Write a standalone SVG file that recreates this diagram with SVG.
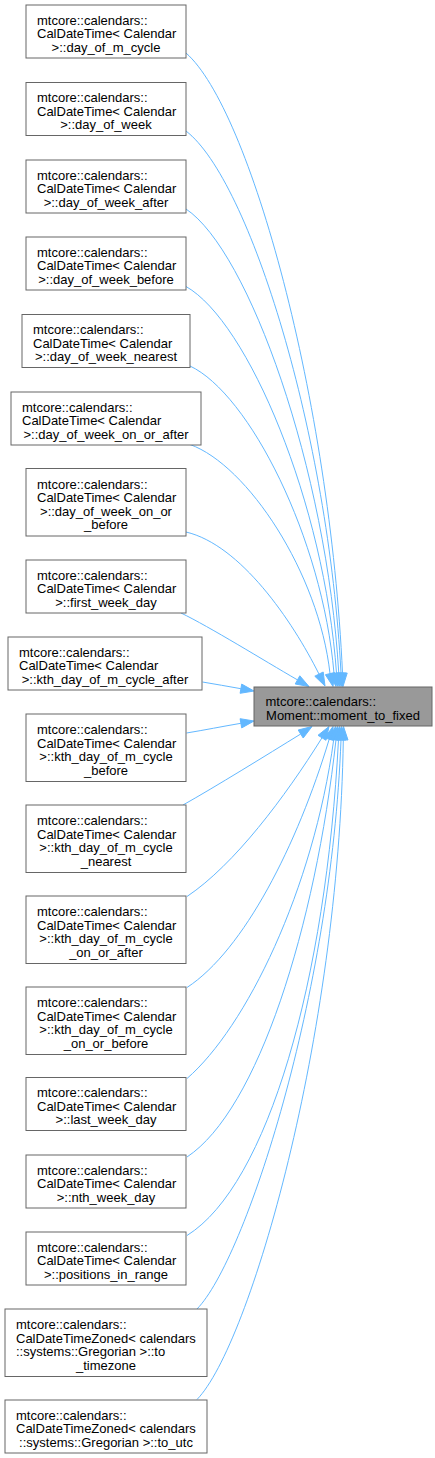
<svg xmlns="http://www.w3.org/2000/svg" width="435" height="1458" viewBox="0 0 435 1458">
<style>
.n rect{fill:#ffffff;stroke:#666666;stroke-width:1}
.c rect{fill:#999999;stroke:#666666;stroke-width:1}
text{font-family:"Liberation Sans",Arial,Helvetica,sans-serif;font-size:13px;fill:#000000}
.m{text-anchor:middle}
#edges path{fill:none;stroke:#63b8ff;stroke-width:1}
#edges polygon{fill:#63b8ff;stroke:#63b8ff;stroke-width:1}
</style>
<rect width="435" height="1458" fill="#ffffff"/>
<g id="edges">
<path d="M186,53 C250,109 330,400 342.5,673.2"/><polygon points="343,686.5 347.2,673 337.8,673.4"/>
<path d="M186,131 C249.6,179.8 328.6,434.6 341,673.2"/><polygon points="342,686.5 345.7,672.9 336.3,673.5"/>
<path d="M186,209 C248.6,250.8 326.6,469 338.8,673.3"/><polygon points="340,686.5 343.5,672.9 334.1,673.7"/>
<path d="M186,286.5 C247.7,321.3 324.5,503.1 336.5,673.3"/><polygon points="338,686.5 341.2,672.8 331.8,673.8"/>
<path d="M190,366 C249,393.7 322.5,538.1 334,673.4"/><polygon points="336,686.5 338.65,672.7 329.35,674.1"/>
<path d="M190,444.5 C247.4,465.1 318.8,572.8 330,673.6"/><polygon points="333,686.5 334.6,672.5 325.4,674.7"/>
<path d="M186,532 C240.5,544.8 292.2,620.5 319,674.1"/><polygon points="325,686 323.2,672 314.8,676.2"/>
<path d="M181,613 C210,627 262.9,659.9 297.5,679.9"/><polygon points="309,686.5 299.8,675.8 295.2,684"/>
<path d="M202.5,682 C215,684 228,686.5 240.9,688.7"/><polygon points="254,691 241.7,684.1 240.1,693.3"/>
<path d="M186.5,733 C205,730 222,726.5 240.9,723.3"/><polygon points="254,721 241.7,727.9 240.1,718.7"/>
<path d="M183,805 C215,787 266.7,755 300.7,734"/><polygon points="312,726.5 303.2,738 298.2,730"/>
<path d="M187,896.5 C234.3,864.8 284.9,797.2 322,737.8"/><polygon points="329,726.5 326,740.3 318,735.3"/>
<path d="M187,987.5 C243.9,950.3 297.5,844.6 329.2,739.2"/><polygon points="333,726.5 333.7,740.55 324.7,737.85"/>
<path d="M187,1078.5 C245.7,1027.7 313.2,890.2 333.7,739.7"/><polygon points="335.5,726.5 338.35,740.3 329.05,739.1"/>
<path d="M187,1157 C258,1110 315.3,926.6 336,739.7"/><polygon points="337.5,726.5 340.7,740.2 331.3,739.2"/>
<path d="M187,1235.5 C268,1185 326,980 338.5,739.7"/><polygon points="339.5,726.5 343.2,740.1 333.8,739.3"/>
<path d="M197,1309 C245,1260 331.3,995.6 341,739.8"/><polygon points="341.5,726.5 345.7,740.2 336.3,739.4"/>
<path d="M197,1399.5 C250,1345 338.8,1036.8 343.3,739.8"/><polygon points="343.5,726.5 348,740 338.6,739.6"/>
</g>
<g id="node_center" class="c"><rect x="254" y="687" width="178" height="39"/><text x="265.5" y="706.3">mtcore::calendars::</text><text class="m" x="343" y="719.8">Moment::moment_to_fixed</text></g>
<g id="node1" class="n"><rect x="26" y="5" width="160" height="53"/><text x="37" y="24.6">mtcore::calendars::</text><text x="37" y="38.1">CalDateTime&lt; Calendar</text><text class="m" x="106" y="51.6">&gt;::day_of_m_cycle</text></g>
<g id="node2" class="n"><rect x="26" y="82.5" width="160" height="53"/><text x="37" y="102.1">mtcore::calendars::</text><text x="37" y="115.6">CalDateTime&lt; Calendar</text><text class="m" x="106" y="129.1">&gt;::day_of_week</text></g>
<g id="node3" class="n"><rect x="26" y="160" width="160" height="53"/><text x="37" y="179.6">mtcore::calendars::</text><text x="37" y="193.1">CalDateTime&lt; Calendar</text><text class="m" x="106" y="206.6">&gt;::day_of_week_after</text></g>
<g id="node4" class="n"><rect x="26" y="237" width="160" height="53"/><text x="37" y="256.6">mtcore::calendars::</text><text x="37" y="270.1">CalDateTime&lt; Calendar</text><text class="m" x="106" y="283.6">&gt;::day_of_week_before</text></g>
<g id="node5" class="n"><rect x="22" y="314.5" width="168" height="53"/><text x="33" y="334.1">mtcore::calendars::</text><text x="33" y="347.6">CalDateTime&lt; Calendar</text><text class="m" x="106" y="361.1">&gt;::day_of_week_nearest</text></g>
<g id="node6" class="n"><rect x="11" y="392" width="190" height="53"/><text x="22" y="411.6">mtcore::calendars::</text><text x="22" y="425.1">CalDateTime&lt; Calendar</text><text class="m" x="106" y="438.6">&gt;::day_of_week_on_or_after</text></g>
<g id="node7" class="n"><rect x="26" y="468.5" width="160" height="67.5"/><text x="37" y="488.8">mtcore::calendars::</text><text x="37" y="502.3">CalDateTime&lt; Calendar</text><text class="m" x="106" y="515.8">&gt;::day_of_week_on_or</text><text class="m" x="106" y="529.3">_before</text></g>
<g id="node8" class="n"><rect x="26" y="560" width="160" height="53"/><text x="37" y="579.6">mtcore::calendars::</text><text x="37" y="593.1">CalDateTime&lt; Calendar</text><text class="m" x="106" y="606.6">&gt;::first_week_day</text></g>
<g id="node9" class="n"><rect x="8" y="637" width="194" height="53"/><text x="19" y="656.6">mtcore::calendars::</text><text x="19" y="670.1">CalDateTime&lt; Calendar</text><text class="m" x="105" y="683.6">&gt;::kth_day_of_m_cycle_after</text></g>
<g id="node10" class="n"><rect x="26" y="714" width="160" height="67.5"/><text x="37" y="734.3">mtcore::calendars::</text><text x="37" y="747.8">CalDateTime&lt; Calendar</text><text class="m" x="106" y="761.3">&gt;::kth_day_of_m_cycle</text><text class="m" x="106" y="774.8">_before</text></g>
<g id="node11" class="n"><rect x="26" y="805" width="160" height="67.5"/><text x="37" y="825.3">mtcore::calendars::</text><text x="37" y="838.8">CalDateTime&lt; Calendar</text><text class="m" x="106" y="852.3">&gt;::kth_day_of_m_cycle</text><text class="m" x="106" y="865.8">_nearest</text></g>
<g id="node12" class="n"><rect x="26" y="896" width="160" height="67.5"/><text x="37" y="916.3">mtcore::calendars::</text><text x="37" y="929.8">CalDateTime&lt; Calendar</text><text class="m" x="106" y="943.3">&gt;::kth_day_of_m_cycle</text><text class="m" x="106" y="956.8">_on_or_after</text></g>
<g id="node13" class="n"><rect x="26" y="987" width="160" height="67.5"/><text x="37" y="1007.3">mtcore::calendars::</text><text x="37" y="1020.8">CalDateTime&lt; Calendar</text><text class="m" x="106" y="1034.3">&gt;::kth_day_of_m_cycle</text><text class="m" x="106" y="1047.8">_on_or_before</text></g>
<g id="node14" class="n"><rect x="26" y="1077.5" width="160" height="53"/><text x="37" y="1097.1">mtcore::calendars::</text><text x="37" y="1110.6">CalDateTime&lt; Calendar</text><text class="m" x="106" y="1124.1">&gt;::last_week_day</text></g>
<g id="node15" class="n"><rect x="26" y="1155" width="160" height="53"/><text x="37" y="1174.6">mtcore::calendars::</text><text x="37" y="1188.1">CalDateTime&lt; Calendar</text><text class="m" x="106" y="1201.6">&gt;::nth_week_day</text></g>
<g id="node16" class="n"><rect x="26" y="1232" width="160" height="53"/><text x="37" y="1251.6">mtcore::calendars::</text><text x="37" y="1265.1">CalDateTime&lt; Calendar</text><text class="m" x="106" y="1278.6">&gt;::positions_in_range</text></g>
<g id="node17" class="n"><rect x="5" y="1309" width="202" height="67.5"/><text x="16" y="1329.3">mtcore::calendars::</text><text x="16" y="1342.8">CalDateTimeZoned&lt; calendars</text><text x="16" y="1356.3">::systems::Gregorian &gt;::to</text><text class="m" x="106" y="1369.8">_timezone</text></g>
<g id="node18" class="n"><rect x="5" y="1400" width="202" height="53"/><text x="16" y="1419.6">mtcore::calendars::</text><text x="16" y="1433.1">CalDateTimeZoned&lt; calendars</text><text class="m" x="106" y="1446.6">::systems::Gregorian &gt;::to_utc</text></g>
</svg>
